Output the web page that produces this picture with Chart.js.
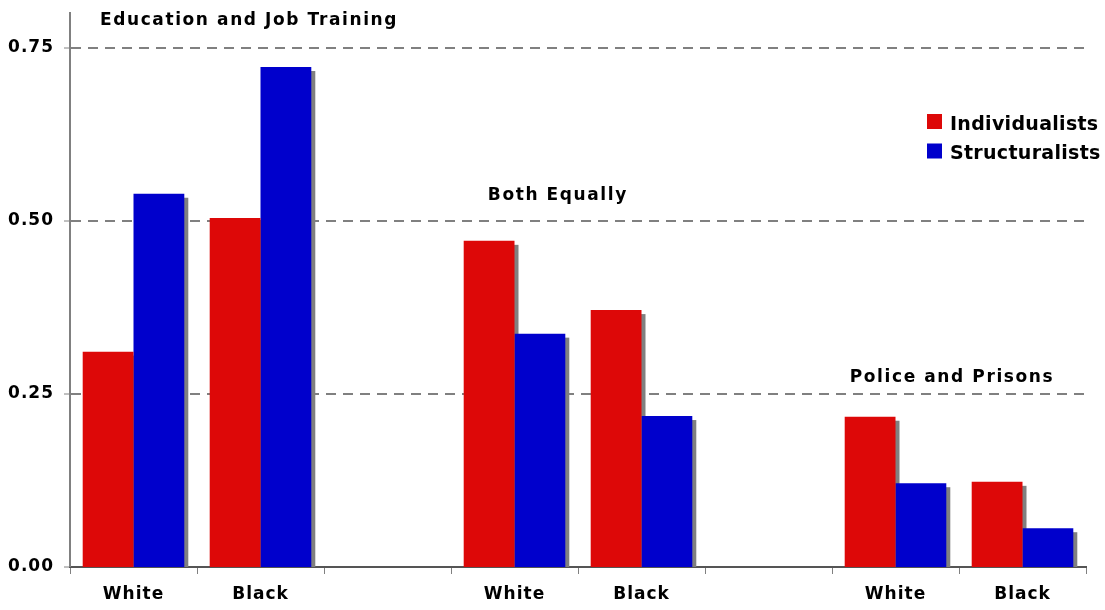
<!DOCTYPE html>
<html>
<head>
<meta charset="utf-8">
<script src="https://cdn.jsdelivr.net/npm/chart.js@4"></script>
<style>
html,body{margin:0;padding:0;background:#fff;}
#wrap{width:1105px;height:610px;}
</style>
</head>
<body>
<div id="wrap"><canvas id="c" width="1105" height="610"></canvas></div>
<script>
// ---- data ----
const categories = ['White', 'Black', '', 'White', 'Black', '', 'White', 'Black'];
const individualists = [0.311, 0.504, null, 0.471, 0.371, null, 0.217, 0.123];
const structuralists = [0.539, 0.722, null, 0.337, 0.218, null, 0.121, 0.056];
const seriesNames = ['Individualists', 'Structuralists'];
const groupTitles = ['Education and Job Training', 'Both Equally', 'Police and Prisons'];
const yTickValues = [0, 0.25, 0.5, 0.75];

// ---- styles ----
const RED = '#DD0808';
const BLUE = '#0000CC';
const GRAY = '#808080';
const FONT = 'DejaVu Sans';
// title anchors (category-index, value) for each group title
const titleAnchors = [[-0.264, 0.783], [2.79, 0.530], [5.64, 0.267]];

const shadowPlugin = {
  id: 'barShadow',
  beforeDatasetsDraw(chart) {
    const ctx = chart.ctx, a = chart.chartArea;
    ctx.save();
    ctx.beginPath();
    ctx.rect(a.left, a.top, a.right - a.left, a.bottom - a.top);
    ctx.clip();
    ctx.fillStyle = GRAY;
    chart.data.datasets.forEach((ds, i) => {
      const meta = chart.getDatasetMeta(i);
      meta.data.forEach((bar, j) => {
        if (ds.data[j] == null) return;
        const left = bar.x - bar.width / 2;
        ctx.fillRect(left + 4, bar.y + 4, bar.width, bar.base - bar.y - 4);
      });
    });
    ctx.restore();
  }
};

const textPlugin = {
  id: 'texts',
  beforeDraw(chart) {
    chart.ctx.letterSpacing = '1px';
  },
  afterDraw(chart) {
    const ctx = chart.ctx;
    const xs = chart.scales.x, ys = chart.scales.y;
    ctx.save();
    ctx.fillStyle = '#000';
    ctx.textBaseline = 'alphabetic';
    ctx.textAlign = 'left';
    ctx.font = 'bold 17px "' + FONT + '"';
    ctx.letterSpacing = '1.6px';
    groupTitles.forEach((t, i) => {
      const [ci, v] = titleAnchors[i];
      ctx.fillText(t, xs.getPixelForValue(ci), ys.getPixelForValue(v));
    });
    // legend
    ctx.font = 'bold 19px "' + FONT + '"';
    ctx.letterSpacing = '0.3px';
    const colors = [RED, BLUE];
    seriesNames.forEach((n, i) => {
      const y0 = 114 + i * 29.5;
      ctx.fillStyle = colors[i];
      ctx.fillRect(927, y0, 15, 15);
      ctx.fillStyle = '#000';
      ctx.fillText(n, 950, y0 + 15.5);
    });
    ctx.restore();
  }
};

new Chart(document.getElementById('c'), {
  type: 'bar',
  data: {
    labels: categories,
    datasets: [
      { label: seriesNames[0], data: individualists, backgroundColor: RED, borderWidth: 0 },
      { label: seriesNames[1], data: structuralists, backgroundColor: BLUE, borderWidth: 0 }
    ]
  },
  options: {
    responsive: false,
    animation: false,
    devicePixelRatio: 1,
    layout: { padding: { top: 13, right: 19, left: 0, bottom: 0 } },
    datasets: { bar: { categoryPercentage: 0.8, barPercentage: 1.0 } },
    plugins: { legend: { display: false }, tooltip: { enabled: false }, title: { display: false } },
    scales: {
      x: {
        grid: { drawOnChartArea: false, drawTicks: true, tickLength: 7, color: GRAY, lineWidth: 1, offset: true },
        border: { display: true, color: '#555', width: 2 },
        ticks: { color: '#000', font: { family: FONT, size: 17, weight: 'bold' }, padding: 10, maxRotation: 0, autoSkip: false },
        afterFit(s) { s.height = 43; s.paddingLeft = 0; s.paddingRight = 0; }
      },
      y: {
        min: 0, max: 0.8,
        afterBuildTicks(s) { s.ticks = yTickValues.map(v => ({ value: v })); },
        grid: {
          color: GRAY,
          lineWidth: (c) => (c.tick && c.tick.value === 0 ? 0 : 2),
          tickLength: 6, tickWidth: 1, tickColor: GRAY, drawTicks: true
        },
        border: { display: true, color: GRAY, width: 2, dash: [10, 7] },
        ticks: {
          color: '#000', font: { family: FONT, size: 17, weight: 'bold' }, padding: 10,
          callback: (v) => Number(v).toFixed(2)
        },
        afterFit(s) { s.width = 70; s.paddingTop = 0; s.paddingBottom = 0; }
      }
    }
  },
  plugins: [shadowPlugin, textPlugin]
});
</script>
</body>
</html>
